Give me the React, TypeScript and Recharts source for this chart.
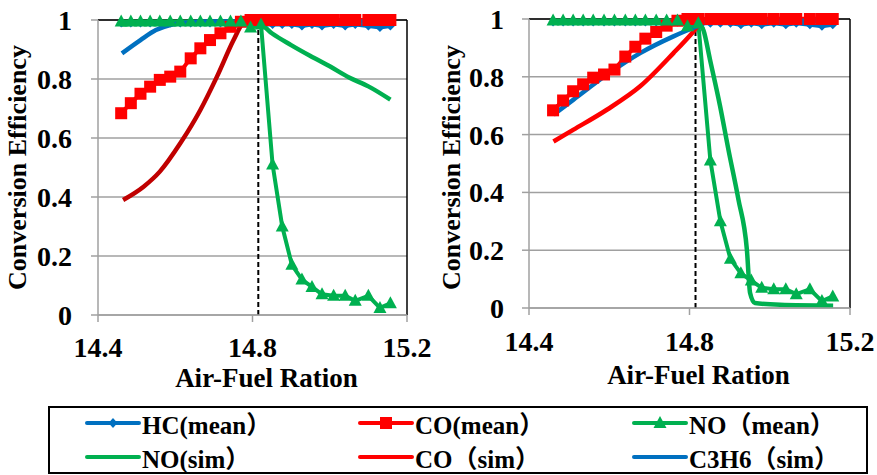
import React from "react";
import { LineChart, Line, XAxis, YAxis, CartesianGrid, ReferenceLine } from "recharts";

/* ── colours / fonts ── */
const BLUE = "#0070c0";
const RED = "#ff0000";
const DARK_RED = "#c00000";
const GREEN = "#00b050";
const GRID = "#a0a0a0";
const SERIF = "Liberation Serif, Tinos, DejaVu Serif, serif";
const LEGEND_FONT = "Liberation Serif, Tinos, DejaVu Serif, Noto Sans CJK SC, serif";

/* ── data: measured (mean) points, shared by both panels ── */
const meanAfr = [
  14.46, 14.485, 14.51, 14.535, 14.56, 14.587, 14.613, 14.64, 14.665, 14.69, 14.717, 14.743, 14.77, 14.795,
  14.822, 14.852, 14.877, 14.902, 14.928, 14.954, 14.98, 15.01, 15.04, 15.066, 15.1, 15.13, 15.157,
];
const hcMean = [
  0.99, 0.99, 0.99, 0.99, 0.99, 0.99, 0.99, 0.99, 0.99, 0.99, 0.99, 0.99, 0.99, 0.99,
  0.985, 0.985, 0.985, 0.985, 0.98, 0.985, 0.98, 0.985, 0.98, 0.985, 0.98, 0.975, 0.98,
];
const coMean = [
  0.684, 0.718, 0.75, 0.774, 0.797, 0.808, 0.825, 0.87, 0.904, 0.932, 0.955, 0.977, 0.994, 1,
  1, 1, 1, 1, 1, 1, 1, 1, 1, 1, 1, 1, 1,
];
const noMean = [
  0.995, 0.995, 0.995, 0.995, 0.995, 0.995, 0.995, 0.995, 0.995, 0.995, 0.995, 0.995, 0.995, 0.975,
  0.985, 0.51, 0.3, 0.17, 0.12, 0.095, 0.07, 0.065, 0.065, 0.048, 0.065, 0.024, 0.04,
];

/* ── simulation curves, left panel ── */
const noSimAfrL = [14.46, 14.55, 14.65, 14.75, 14.82, 14.85, 14.9, 14.95, 15.0, 15.05, 15.1, 15.157];
const noSimL = [0.985, 0.99, 0.99, 0.99, 0.985, 0.955, 0.915, 0.878, 0.843, 0.805, 0.775, 0.73];
const coSimAfrL = [14.465, 14.518, 14.56, 14.613, 14.665, 14.708, 14.751, 14.775, 14.785];
const coSimL = [0.39, 0.435, 0.486, 0.582, 0.695, 0.808, 0.932, 0.99, 1];
const c3h6SimAfrL = [14.462, 14.51, 14.55, 14.587, 14.62, 14.7, 14.9, 15.157];
const c3h6SimL = [0.887, 0.932, 0.966, 0.983, 0.99, 0.995, 0.995, 0.995];

/* ── simulation curves, right panel ── */
const noSimAfrR = [
  14.46, 14.6, 14.75, 14.82, 14.835, 14.851, 14.876, 14.897, 14.922, 14.943, 14.951, 14.963, 15.026, 15.158,
];
const noSimR = [0.99, 0.99, 0.99, 0.99, 0.96, 0.86, 0.7, 0.548, 0.375, 0.202, 0.052, 0.017, 0.011, 0.008];
const coSimAfrR = [14.461, 14.511, 14.594, 14.677, 14.76, 14.81, 14.83, 14.86, 15.157];
const coSimR = [0.576, 0.617, 0.686, 0.767, 0.882, 0.957, 0.99, 1, 1];
const c3h6SimAfrR = [14.461, 14.511, 14.594, 14.677, 14.76, 14.818, 14.851, 14.9, 15.157];
const c3h6SimR = [0.669, 0.721, 0.807, 0.882, 0.94, 0.974, 0.992, 0.994, 0.994];

/* ── axes ── */
const xTicks = [14.4, 14.8, 15.2];
const yTicks = [0, 0.2, 0.4, 0.6, 0.8, 1];
const stoichAfr = 14.815;
const stoichTop = 0.985;

const toPoints = (xs: number[], ys: number[]) => xs.map((afr, i) => ({ afr, v: ys[i] }));

/* ── markers ── */
const diamondDot = (p: any) => {
  const { cx, cy, index } = p;
  const r = 4.5;
  return <path key={`d${index}`} d={`M${cx},${cy - r}L${cx + r},${cy}L${cx},${cy + r}L${cx - r},${cy}Z`} fill={BLUE} />;
};
const squareDot = (p: any) => {
  const { cx, cy, index } = p;
  return <rect key={`s${index}`} x={cx - 6} y={cy - 6} width={12} height={12} fill={RED} />;
};
const triangleDot = (p: any) => {
  const { cx, cy, index } = p;
  return <path key={`t${index}`} d={`M${cx},${cy - 7}L${cx + 6.5},${cy + 5}L${cx - 6.5},${cy + 5}Z`} fill={GREEN} />;
};

const tickStyle = { fill: "#000", fontSize: 28, fontWeight: "bold", fontFamily: SERIF };
const titleStyle = { fill: "#000", fontSize: 27, fontWeight: "bold", fontFamily: SERIF };

type Pt = { afr: number; v: number };
type PanelProps = {
  left: number;
  yAxisWidth: number;
  rightMargin: number;
  topMargin: number;
  xAxisHeight: number;
  xTickMargin: number;
  yTickMargin: number;
  xTitleDx: number;
  xTitleBaseline: number;
  yTitleX: number;
  yTitleDy: number;
  coSimColor: string;
  noSim: Pt[];
  coSim: Pt[];
  c3h6Sim: Pt[];
};

function Panel(p: PanelProps) {
  return (
    <div style={{ position: "absolute", left: p.left, top: 0 }}>
      <LineChart
        width={440}
        height={400}
        margin={{ top: p.topMargin, right: p.rightMargin, left: 0, bottom: 0 }}
      >
        <CartesianGrid vertical={false} stroke={GRID} strokeWidth={1.5} />
        <XAxis
          dataKey="afr"
          type="number"
          domain={[14.4, 15.2]}
          ticks={xTicks}
          height={p.xAxisHeight}
          tick={tickStyle}
          tickSize={7}
          tickMargin={p.xTickMargin}
          axisLine={{ stroke: GRID, strokeWidth: 1.5 }}
          tickLine={{ stroke: GRID, strokeWidth: 1.5 }}
          allowDataOverflow
          label={(lp: any) => {
            const vb = lp.viewBox;
            return (
              <text x={vb.x + vb.width / 2 + p.xTitleDx} y={vb.y + p.xTitleBaseline} textAnchor="middle" {...titleStyle}>
                Air-Fuel Ration
              </text>
            );
          }}
        />
        <YAxis
          type="number"
          domain={[0, 1]}
          ticks={yTicks}
          width={p.yAxisWidth}
          tick={tickStyle}
          tickSize={7}
          tickMargin={p.yTickMargin}
          axisLine={{ stroke: GRID, strokeWidth: 1.5 }}
          tickLine={{ stroke: GRID, strokeWidth: 1.5 }}
          label={(lp: any) => {
            const vb = lp.viewBox;
            const x = vb.x + p.yTitleX;
            const y = vb.y + vb.height / 2 + p.yTitleDy;
            return (
              <text x={x} y={y} textAnchor="middle" transform={`rotate(-90, ${x}, ${y})`} {...titleStyle} fontSize={26}>
                Conversion Efficiency
              </text>
            );
          }}
        />
        <ReferenceLine y={1} stroke="#000" strokeWidth={1.5} />
        <ReferenceLine x={15.2} stroke="#000" strokeWidth={1.5} />
        <ReferenceLine
          segment={[
            { x: stoichAfr, y: 0 },
            { x: stoichAfr, y: stoichTop },
          ]}
          stroke="#000"
          strokeWidth={2}
          strokeDasharray="5 3"
        />
        <Line data={toPoints(meanAfr, hcMean)} dataKey="v" type="linear" stroke={BLUE} strokeWidth={4} dot={diamondDot} activeDot={false} isAnimationActive={false} />
        <Line data={toPoints(meanAfr, coMean)} dataKey="v" type="linear" stroke={RED} strokeWidth={4} dot={squareDot} activeDot={false} isAnimationActive={false} />
        <Line data={toPoints(meanAfr, noMean)} dataKey="v" type="linear" stroke={GREEN} strokeWidth={4} dot={triangleDot} activeDot={false} isAnimationActive={false} />
        <Line data={p.noSim} dataKey="v" type="monotone" stroke={GREEN} strokeWidth={4.5} dot={false} activeDot={false} isAnimationActive={false} />
        <Line data={p.coSim} dataKey="v" type="monotone" stroke={p.coSimColor} strokeWidth={4.5} dot={false} activeDot={false} isAnimationActive={false} />
        <Line data={p.c3h6Sim} dataKey="v" type="monotone" stroke={BLUE} strokeWidth={4.5} dot={false} activeDot={false} isAnimationActive={false} />
      </LineChart>
    </div>
  );
}

/* ── legend ── */
type LegendItem = { label: string; color: string; marker: "diamond" | "square" | "triangle" | null; col: number; row: number };
const legendItems: LegendItem[] = [
  { label: "HC(mean）", color: BLUE, marker: "diamond", col: 0, row: 0 },
  { label: "CO(mean）", color: RED, marker: "square", col: 1, row: 0 },
  { label: "NO（mean）", color: GREEN, marker: "triangle", col: 2, row: 0 },
  { label: "NO(sim）", color: GREEN, marker: null, col: 0, row: 1 },
  { label: "CO（sim）", color: RED, marker: null, col: 1, row: 1 },
  { label: "C3H6（sim）", color: BLUE, marker: null, col: 2, row: 1 },
];
const colX = [35, 308, 582];
const rowY = [0, 34];

function LegendSwatch({ color, marker }: { color: string; marker: LegendItem["marker"] }) {
  return (
    <svg width={56} height={20}>
      <line x1={2} y1={10} x2={54} y2={10} stroke={color} strokeWidth={4} strokeLinecap="round" />
      {marker === "diamond" && <path d="M28,5L32.5,10L28,15L23.5,10Z" fill={color} />}
      {marker === "square" && <rect x={22} y={4} width={12} height={12} fill={color} />}
      {marker === "triangle" && <path d="M28,3L34.5,15L21.5,15Z" fill={color} />}
    </svg>
  );
}

export default function App() {
  return (
    <div style={{ position: "absolute", left: 0, top: 0, width: 877, height: 475, background: "#fff", overflow: "hidden" }}>
      <Panel
        left={0}
        yAxisWidth={98}
        rightMargin={33}
        topMargin={20}
        xAxisHeight={85}
        xTickMargin={15}
        yTickMargin={19}
        xTitleDx={14}
        xTitleBaseline={72}
        yTitleX={26}
        yTitleDy={0}
        coSimColor={DARK_RED}
        noSim={toPoints(noSimAfrL, noSimL)}
        coSim={toPoints(coSimAfrL, coSimL)}
        c3h6Sim={toPoints(c3h6SimAfrL, c3h6SimL)}
      />
      <Panel
        left={437}
        yAxisWidth={92}
        rightMargin={27}
        topMargin={19}
        xAxisHeight={92}
        xTickMargin={16}
        yTickMargin={18}
        xTitleDx={9}
        xTitleBaseline={76}
        yTitleX={23}
        yTitleDy={4}
        coSimColor={RED}
        noSim={toPoints(noSimAfrR, noSimR)}
        coSim={toPoints(coSimAfrR, coSimR)}
        c3h6Sim={toPoints(c3h6SimAfrR, c3h6SimR)}
      />
      <div
        style={{
          position: "absolute",
          left: 48,
          top: 406,
          width: 820,
          height: 68,
          boxSizing: "border-box",
          border: "2px solid #000",
        }}
      >
        {legendItems.map((it) => (
          <div
            key={it.label}
            style={{
              position: "absolute",
              left: colX[it.col],
              top: rowY[it.row],
              height: 30,
              display: "flex",
              alignItems: "center",
              whiteSpace: "nowrap",
            }}
          >
            <LegendSwatch color={it.color} marker={it.marker} />
            <span style={{ fontFamily: LEGEND_FONT, fontWeight: "bold", fontSize: 25, marginLeft: 1 }}>{it.label}</span>
          </div>
        ))}
      </div>
    </div>
  );
}
